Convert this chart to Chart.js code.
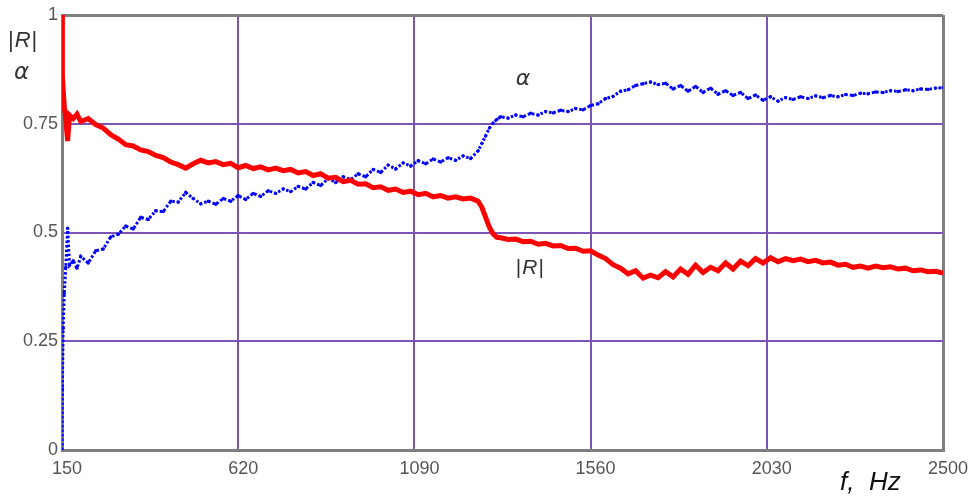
<!DOCTYPE html>
<html>
<head>
<meta charset="utf-8">
<script src="https://cdn.jsdelivr.net/npm/chart.js@4"></script>
<style>
  body { margin: 0; background: #fff; }
  #wrap { position: relative; width: 975px; height: 499px; }
</style>
</head>
<body>
<div id="wrap"><canvas id="chart" width="975" height="499"></canvas></div>
<script>
// frequency, Hz
const freq = [
  150, 151, 153, 156, 160, 165, 170, 180, 190, 200,
  220, 240, 260, 280, 300, 320, 340, 360, 380, 400,
  420, 440, 460, 480, 500, 520, 540, 560, 580, 600,
  620, 640, 660, 680, 700, 720, 740, 760, 780, 800,
  820, 840, 860, 880, 900, 920, 940, 960, 980, 1000,
  1020, 1040, 1060, 1080, 1100, 1120, 1140, 1160, 1180, 1200,
  1220, 1240, 1260, 1270, 1280, 1290, 1300, 1310, 1320, 1340,
  1360, 1380, 1400, 1420, 1440, 1460, 1480, 1500, 1520, 1540,
  1560, 1580, 1600, 1620, 1640, 1660, 1680, 1700, 1720, 1740,
  1760, 1780, 1800, 1820, 1840, 1860, 1880, 1900, 1920, 1940,
  1960, 1980, 2000, 2020, 2040, 2060, 2080, 2100, 2120, 2140,
  2160, 2180, 2200, 2220, 2240, 2260, 2280, 2300, 2320, 2340,
  2360, 2380, 2400, 2420, 2440, 2460, 2480, 2500
];

// |R| (red)
const absR = [
  1.0, 0.86, 0.83, 0.79, 0.76, 0.71, 0.77, 0.762, 0.772, 0.755,
  0.762, 0.748, 0.74, 0.725, 0.715, 0.702, 0.699, 0.69, 0.686, 0.677,
  0.672, 0.662, 0.656, 0.648, 0.658, 0.666, 0.66, 0.663, 0.656, 0.659,
  0.649, 0.654, 0.647, 0.651, 0.644, 0.648, 0.642, 0.645, 0.637, 0.64,
  0.631, 0.635, 0.625, 0.627, 0.617, 0.62, 0.611, 0.612, 0.603, 0.605,
  0.597, 0.6, 0.592, 0.595, 0.587, 0.59, 0.582, 0.585, 0.579, 0.582,
  0.577, 0.579, 0.572, 0.558, 0.535, 0.512, 0.497, 0.489, 0.488, 0.484,
  0.485, 0.479, 0.48, 0.473, 0.475, 0.469, 0.47, 0.463, 0.464, 0.457,
  0.458, 0.448, 0.44, 0.426, 0.418, 0.405, 0.412, 0.395, 0.402, 0.396,
  0.41, 0.398, 0.416, 0.404, 0.425, 0.408, 0.42, 0.412, 0.43, 0.416,
  0.434, 0.424, 0.44, 0.43, 0.442, 0.433, 0.44, 0.435, 0.439, 0.433,
  0.436, 0.43, 0.432, 0.425, 0.427, 0.42, 0.423, 0.418, 0.423, 0.419,
  0.421, 0.416, 0.418, 0.412, 0.414, 0.41, 0.411, 0.407
];

// alpha (blue)
const alpha = [
  0.0, 0.14, 0.28, 0.36, 0.42, 0.51, 0.425, 0.435, 0.418, 0.445,
  0.43, 0.458, 0.462, 0.49, 0.496, 0.515, 0.508, 0.535, 0.53, 0.55,
  0.548, 0.572, 0.57, 0.592, 0.578, 0.566, 0.572, 0.565, 0.578, 0.572,
  0.585, 0.576, 0.59, 0.583, 0.596, 0.59, 0.6, 0.594, 0.606, 0.6,
  0.615, 0.608, 0.624, 0.615, 0.628, 0.622, 0.635, 0.628, 0.645, 0.638,
  0.655, 0.646, 0.66, 0.653, 0.665, 0.658, 0.669, 0.662, 0.672, 0.666,
  0.676, 0.67, 0.688, 0.705, 0.722, 0.74, 0.752, 0.76, 0.766, 0.763,
  0.77, 0.766, 0.774, 0.77, 0.778, 0.775, 0.781, 0.778, 0.785, 0.782,
  0.792, 0.796, 0.808, 0.813, 0.825, 0.828, 0.838, 0.842, 0.846, 0.84,
  0.843, 0.83, 0.838, 0.825, 0.836, 0.822, 0.832, 0.818, 0.826, 0.815,
  0.822, 0.808, 0.816, 0.804, 0.812, 0.802, 0.81, 0.806, 0.812, 0.808,
  0.814, 0.81, 0.815, 0.812, 0.817, 0.815, 0.82, 0.819, 0.823, 0.822,
  0.826, 0.824, 0.828, 0.826, 0.83, 0.829, 0.832, 0.833
];

const xTicks = [150, 620, 1090, 1560, 2030, 2500];
const yTicks = [0, 0.25, 0.5, 0.75, 1];

const FRAME = '#7f7f7f';
const GRID = '#7b54b4';
const TICK_FONT = { family: 'Liberation Sans', size: 18 };

const toPoints = vals => freq.map((f, i) => ({ x: f, y: vals[i] }));

// draws |R| with italic R, left to right from x
function drawAbsR(ctx, x, y, size) {
    ctx.textAlign = 'left';
    ctx.font = size + 'px "Liberation Sans"';
    ctx.fillText('|', x, y);
    x += ctx.measureText('|').width + 1;
    ctx.font = 'italic ' + size + 'px "Liberation Sans"';
    ctx.fillText('R', x, y);
    x += ctx.measureText('R').width + 1;
    ctx.font = size + 'px "Liberation Sans"';
    ctx.fillText('|', x, y);
}

const labelsPlugin = {
    id: 'labels',
    afterDatasetsDraw(chart) {
        const ctx = chart.ctx;
        const xs = chart.scales.x, ys = chart.scales.y;
        ctx.save();
        ctx.fillStyle = '#333';
        ctx.textBaseline = 'middle';

        // axis names on the left
        drawAbsR(ctx, 8, 41, 22);
        ctx.font = 'italic 23px "DejaVu Sans"';
        ctx.textAlign = 'left';
        ctx.fillText('α', 14, 73);

        // curve names inside the plot
        ctx.font = 'italic 22px "DejaVu Sans"';
        ctx.textAlign = 'center';
        ctx.fillText('α', xs.getPixelForValue(1380), ys.getPixelForValue(0.852));
        drawAbsR(ctx, xs.getPixelForValue(1398) - 14, ys.getPixelForValue(0.418), 21);

        // x axis name
        ctx.fillStyle = '#111';
        ctx.textAlign = 'left';
        ctx.textBaseline = 'alphabetic';
        ctx.font = 'italic 26px "Liberation Sans"';
        ctx.fillText('f,  Hz', 840, 490);
        ctx.restore();
    }
};

const edgeColor = (edges) => (c) =>
    (c.tick && edges.includes(c.tick.value)) ? FRAME : GRID;
const edgeWidth = (edges) => (c) =>
    (c.tick && edges.includes(c.tick.value)) ? 3 : 2;

new Chart(document.getElementById('chart'), {
    type: 'scatter',
    data: {
        datasets: [
            {
                label: '|R|',
                data: toPoints(absR),
                showLine: true,
                borderColor: '#ff0000',
                borderWidth: 5,
                pointRadius: 0,
                tension: 0
            },
            {
                label: 'α',
                data: toPoints(alpha),
                showLine: true,
                borderColor: '#0000ff',
                borderWidth: 3,
                borderDash: [2.5, 2],
                pointRadius: 1.7,
                pointBorderWidth: 0,
                pointBackgroundColor: '#0000ff',
                tension: 0
            }
        ]
    },
    options: {
        responsive: false,
        animation: false,
        devicePixelRatio: 1,
        layout: { padding: { top: 15, right: 32, left: 0, bottom: 0 } },
        plugins: {
            legend: { display: false },
            tooltip: { enabled: false }
        },
        scales: {
            x: {
                type: 'linear',
                min: 150,
                max: 2500,
                afterBuildTicks: s => { s.ticks = xTicks.map(v => ({ value: v })); },
                afterFit: s => { s.height = 49; },
                grid: {
                    color: edgeColor([150, 2500]),
                    lineWidth: edgeWidth([150, 2500]),
                    drawTicks: false
                },
                border: { color: FRAME, width: 3 },
                ticks: {
                    color: '#555',
                    font: TICK_FONT,
                    padding: 8,
                    labelOffset: 5,
                    maxRotation: 0,
                    callback: v => String(v)
                }
            },
            y: {
                min: 0,
                max: 1,
                afterBuildTicks: s => { s.ticks = yTicks.map(v => ({ value: v })); },
                afterFit: s => { s.width = 62; },
                grid: {
                    color: edgeColor([0, 1]),
                    lineWidth: edgeWidth([0, 1]),
                    drawTicks: false
                },
                border: { color: FRAME, width: 3 },
                ticks: {
                    color: '#555',
                    font: TICK_FONT,
                    padding: 4,
                    callback: v => String(v)
                }
            }
        }
    },
    plugins: [labelsPlugin]
});
</script>
</body>
</html>
